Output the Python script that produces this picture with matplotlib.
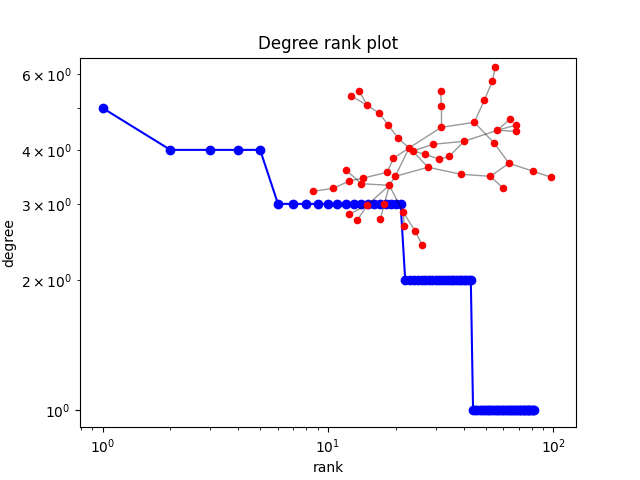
import numpy as np
import matplotlib
matplotlib.use("Agg")
import matplotlib.pyplot as plt

# degree sequence (sorted, descending) of 100-node graph; zeros are not drawn on log axes
degree_counts = {5: 1, 4: 4, 3: 16, 2: 22, 1: 39, 0: 18}
degree_sequence = []
for d in sorted(degree_counts, reverse=True):
    degree_sequence += [d] * degree_counts[d]
degree_sequence = np.array(degree_sequence, dtype=float)
ranks = np.arange(1, len(degree_sequence) + 1)

# inset network (largest connected component) - node positions
node_x = [495.3, 492.3, 484.3, 474.3, 440.7, 441.3, 441.3, 359.3, 351.3, 367.3,
          379.3, 388.3, 398.3, 510.0, 516.3, 516.3, 497.3, 464.0, 494.3, 433.0,
          409.0, 412.7, 425.3, 439.3, 449.3, 393.3, 428.0, 509.0, 533.3, 551.3,
          461.3, 490.3, 503.3, 346.3, 387.3, 395.3, 363.3, 349.3, 361.3, 333.3,
          313.3, 389.3, 367.3, 384.3, 403.3, 349.3, 357.3, 380.3, 404.3, 415.3,
          422.3]
node_y = [67.3, 81.3, 100.3, 122.3, 91.3, 106.3, 127.3, 91.3, 96.0, 105.3,
          113.3, 125.3, 138.3, 119.0, 125.0, 131.3, 130.3, 141.3, 143.3, 144.3,
          148.0, 151.0, 154.3, 159.3, 156.3, 158.3, 167.3, 163.3, 171.3, 177.3,
          174.3, 176.3, 188.3, 170.3, 172.3, 176.3, 178.0, 181.0, 183.7, 188.3,
          191.3, 185.3, 205.0, 204.3, 212.3, 214.3, 220.3, 219.3, 226.0, 231.3,
          245.3]
edges = [(1, 2), (2, 3), (3, 4), (4, 7), (5, 6), (6, 7), (4, 19), (19, 28),
         (28, 29), (29, 30), (28, 32), (32, 33), (32, 31), (31, 27),
         (14, 17), (15, 17), (16, 17), (17, 18), (18, 20), (18, 25), (25, 24),
         (24, 23), (23, 22), (20, 22), (7, 21), (21, 22),
         (8, 10), (9, 10), (10, 11), (11, 12), (12, 13), (13, 21), (21, 26),
         (22, 27), (27, 36), (21, 36), (36, 42), (26, 35),
         (41, 40), (40, 38), (38, 37), (37, 35), (34, 39), (39, 42),
         (42, 43), (43, 46), (43, 47), (42, 44), (44, 48), (42, 45), (45, 50),
         (50, 51), (45, 49)]

fig = plt.figure(figsize=(6.4, 4.8), dpi=100)
ax = fig.add_subplot(111)
ax.set_xscale("log")
ax.set_yscale("log", nonpositive="mask")
ax.plot(ranks, degree_sequence, "b-", marker="o")
ax.set_xlim(10 ** -0.1, 10 ** 2.1)
ax.set_ylim(0.913, 6.54)
ax.set_title("Degree rank plot")
ax.set_ylabel("degree")
ax.set_xlabel("rank")

# inset: axes in pixel-like units of the picture
inset = fig.add_axes([0.45, 0.45, 0.45, 0.45])
inset.set_xlim(288, 576)
inset.set_ylim(264, 48)
inset.axis("off")
for a, b in edges:
    inset.plot([node_x[a - 1], node_x[b - 1]], [node_y[a - 1], node_y[b - 1]],
               color="k", alpha=0.4, lw=1.0, zorder=1)
inset.scatter(node_x, node_y, s=20, c="r", zorder=2)

fig.savefig("out.png", dpi=100)
